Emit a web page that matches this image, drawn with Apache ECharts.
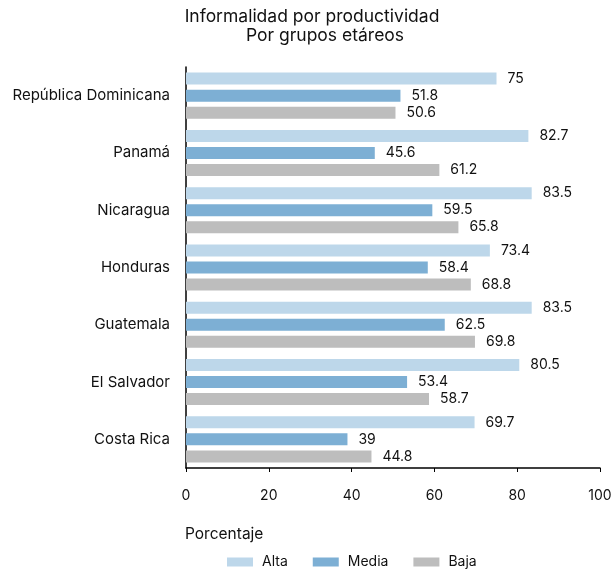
<!DOCTYPE html>
<html><head><meta charset="utf-8">
<script src="https://cdn.jsdelivr.net/npm/echarts@6/dist/echarts.min.js"></script>
<style>html,body{margin:0;padding:0;background:#fff}#c{width:615px;height:571px}</style>
</head><body><div id="c"></div>
<script>
var categories = ['República Dominicana','Panamá','Nicaragua','Honduras','Guatemala','El Salvador','Costa Rica'];
var alta  = [75, 82.7, 83.5, 73.4, 83.5, 80.5, 69.7];
var media = [51.8, 45.6, 59.5, 58.4, 62.5, 53.4, 39];
var baja  = [50.6, 61.2, 65.8, 68.8, 69.8, 58.7, 44.8];
var seriesNames = ['Alta','Media','Baja'];
var xTicks = [0, 20, 40, 60, 80, 100];

var F = 'Inter, "Liberation Sans", Arial, sans-serif';
var chart = echarts.init(document.getElementById('c'), null, {renderer:'canvas'});
function mk(name, data, color){
  return {name:name, type:'bar', data:data, barWidth:12, barGap:'42%',
    itemStyle:{color:color},
    label:{show:true, position:'right', distance:11, color:'#111', fontSize:14, fontFamily:F},
    animation:false};
}
chart.setOption({
  animation:false,
  textStyle:{fontFamily:F},
  title:[
    {text:'Informalidad por productividad', left:307, top:3, textAlign:'center',
      textStyle:{fontSize:17.5, fontWeight:'normal', color:'#111', fontFamily:F}},
    {text:'Por grupos etáreos', left:320, top:22, textAlign:'center',
      textStyle:{fontSize:17.5, fontWeight:'normal', color:'#111', fontFamily:F}},
    {text:'Porcentaje', left:180, top:521, textStyle:{fontSize:15.5, fontWeight:'normal', color:'#111', fontFamily:F}}],
  legend:{top:550, left:222, itemWidth:26, itemHeight:9, itemGap:25, data:seriesNames,
    icon:'rect', textStyle:{fontSize:14, color:'#111', fontFamily:F, padding:[0,0,0,4]}},
  grid:{left:186, right:15, top:67, bottom:103, containLabel:false},
  xAxis:{type:'value', min:xTicks[0], max:xTicks[xTicks.length-1], interval:20,
    splitLine:{show:false},
    axisLine:{show:true, lineStyle:{color:'#000', width:1.5}},
    axisTick:{show:true, length:4, lineStyle:{color:'#000'}},
    axisLabel:{fontSize:14, color:'#111', margin:21, fontFamily:F}},
  yAxis:{type:'category', data:categories, inverse:true,
    axisLine:{show:true, lineStyle:{color:'#000', width:1.5}},
    axisTick:{show:false},
    splitLine:{show:false},
    axisLabel:{fontSize:15, color:'#111', margin:16, fontFamily:F}},
  series:[mk('Alta', alta, '#bdd7ea'), mk('Media', media, '#7dafd4'), mk('Baja', baja, '#bdbdbd')]
});
</script></body></html>
